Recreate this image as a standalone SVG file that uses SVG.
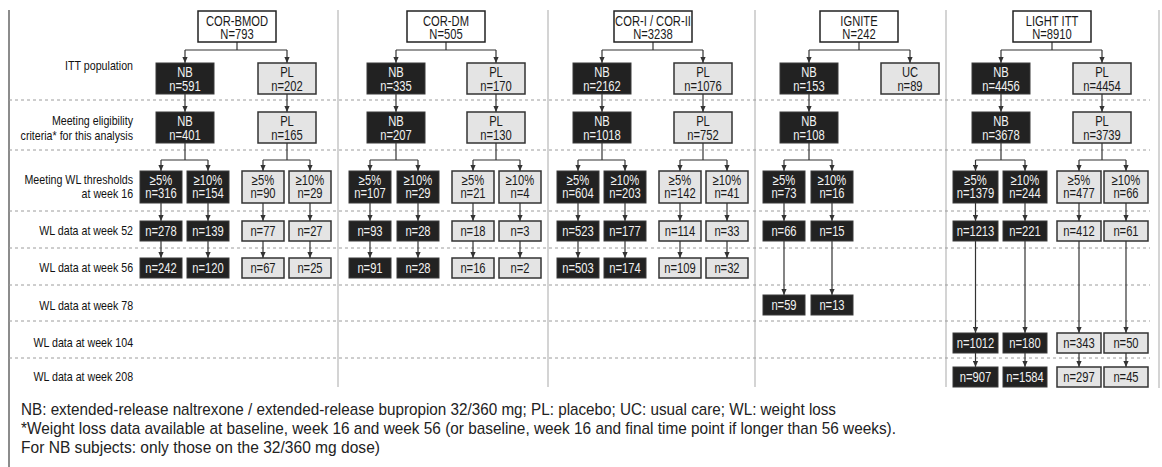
<svg xmlns="http://www.w3.org/2000/svg" width="1162" height="467" viewBox="0 0 1162 467">
<style>
text{font-family:"Liberation Sans Narrow","Arial Narrow","Liberation Sans",Arial,sans-serif}
.top rect{fill:#fff;stroke:#222;stroke-width:1.5}
.nb rect{fill:#222;stroke:#3a3a3a;stroke-width:1}
.pl rect{fill:#e4e4e4;stroke:#333;stroke-width:1.5}
.node text{font-size:14px;text-anchor:middle;transform-box:fill-box;transform-origin:50% 50%;transform:scaleX(0.8)}
.nb text{fill:#f2f2f2}
.pl text,.top text{fill:#1a1a1a}
.lbl{font-size:13px;text-anchor:end;fill:#111;transform-box:fill-box;transform-origin:100% 50%;transform:scaleX(0.82)}
.fn{font-size:17px;fill:#222}
.conn line{stroke:#333;stroke-width:1.2;fill:none}
.conn line.a{marker-end:url(#ah)}
.dash line{stroke:#9c9c9c;stroke-width:1;stroke-dasharray:3 3}
.sep line{stroke:#c6c6c6;stroke-width:1.5}
</style>
<defs>
<marker id="ah" viewBox="0 0 6 6" refX="6" refY="3" markerWidth="6" markerHeight="6" markerUnits="userSpaceOnUse" orient="auto"><path d="M0,0.4 L6,3 L0,5.6 z" fill="#333"/></marker>
</defs>
<rect x="0" y="0" width="1162" height="467" fill="#fff"/>

<g id="frame" class="sep">
<line x1="9" y1="10" x2="9" y2="467" style="stroke:#666"/>
<line x1="1159" y1="10" x2="1159" y2="388"/>
<line x1="338" y1="10" x2="338" y2="387"/>
<line x1="548" y1="10" x2="548" y2="387"/>
<line x1="755" y1="10" x2="755" y2="387"/>
<line x1="946" y1="10" x2="946" y2="387"/>
</g>
<g id="rows" class="dash">
<line x1="9" y1="100" x2="1150" y2="100"/>
<line x1="9" y1="150" x2="1150" y2="150"/>
<line x1="9" y1="211" x2="1150" y2="211"/>
<line x1="9" y1="248" x2="1150" y2="248"/>
<line x1="9" y1="285" x2="1150" y2="285"/>
<line x1="9" y1="321" x2="1150" y2="321"/>
<line x1="9" y1="358" x2="1150" y2="358"/>
</g>

<g id="row-labels">
<text class="lbl" x="133" y="70">ITT population</text>
<text class="lbl" x="133" y="125">Meeting eligibility</text>
<text class="lbl" x="133" y="140">criteria* for this analysis</text>
<text class="lbl" x="133" y="184">Meeting WL thresholds</text>
<text class="lbl" x="133" y="198">at week 16</text>
<text class="lbl" x="133" y="235">WL data at week 52</text>
<text class="lbl" x="133" y="272">WL data at week 56</text>
<text class="lbl" x="133" y="310">WL data at week 78</text>
<text class="lbl" x="133" y="347">WL data at week 104</text>
<text class="lbl" x="133" y="381">WL data at week 208</text>
</g>

<g id="connectors" class="conn">
<!-- COR-BMOD -->
<line x1="237" y1="42" x2="237" y2="50"/><line x1="185" y1="50" x2="287" y2="50"/>
<line class="a" x1="185" y1="50" x2="185" y2="63"/><line class="a" x1="287" y1="50" x2="287" y2="63"/>
<line class="a" x1="185" y1="94" x2="185" y2="112"/><line class="a" x1="287" y1="94" x2="287" y2="112"/>
<line x1="185" y1="143" x2="185" y2="160"/><line x1="161" y1="160" x2="208" y2="160"/>
<line x1="287" y1="143" x2="287" y2="160"/><line x1="263" y1="160" x2="310" y2="160"/>
<line class="a" x1="161" y1="160" x2="161" y2="171"/><line class="a" x1="208" y1="160" x2="208" y2="171"/>
<line class="a" x1="263" y1="160" x2="263" y2="171"/><line class="a" x1="310" y1="160" x2="310" y2="171"/>
<line class="a" x1="161" y1="203" x2="161" y2="221"/><line class="a" x1="208" y1="203" x2="208" y2="221"/>
<line class="a" x1="263" y1="203" x2="263" y2="221"/><line class="a" x1="310" y1="203" x2="310" y2="221"/>
<line class="a" x1="161" y1="241" x2="161" y2="258"/><line class="a" x1="208" y1="241" x2="208" y2="258"/>
<line class="a" x1="263" y1="241" x2="263" y2="258"/><line class="a" x1="310" y1="241" x2="310" y2="258"/>
<!-- COR-DM -->
<line x1="446" y1="42" x2="446" y2="50"/><line x1="396" y1="50" x2="496" y2="50"/>
<line class="a" x1="396" y1="50" x2="396" y2="63"/><line class="a" x1="496" y1="50" x2="496" y2="63"/>
<line class="a" x1="396" y1="94" x2="396" y2="112"/><line class="a" x1="496" y1="94" x2="496" y2="112"/>
<line x1="396" y1="143" x2="396" y2="160"/><line x1="370" y1="160" x2="418" y2="160"/>
<line x1="496" y1="143" x2="496" y2="160"/><line x1="473" y1="160" x2="520" y2="160"/>
<line class="a" x1="370" y1="160" x2="370" y2="171"/><line class="a" x1="418" y1="160" x2="418" y2="171"/>
<line class="a" x1="473" y1="160" x2="473" y2="171"/><line class="a" x1="520" y1="160" x2="520" y2="171"/>
<line class="a" x1="370" y1="203" x2="370" y2="221"/><line class="a" x1="418" y1="203" x2="418" y2="221"/>
<line class="a" x1="473" y1="203" x2="473" y2="221"/><line class="a" x1="520" y1="203" x2="520" y2="221"/>
<line class="a" x1="370" y1="241" x2="370" y2="258"/><line class="a" x1="418" y1="241" x2="418" y2="258"/>
<line class="a" x1="473" y1="241" x2="473" y2="258"/><line class="a" x1="520" y1="241" x2="520" y2="258"/>
<!-- COR-I / COR-II -->
<line x1="653" y1="42" x2="653" y2="50"/><line x1="602" y1="50" x2="703" y2="50"/>
<line class="a" x1="602" y1="50" x2="602" y2="63"/><line class="a" x1="703" y1="50" x2="703" y2="63"/>
<line class="a" x1="602" y1="94" x2="602" y2="112"/><line class="a" x1="703" y1="94" x2="703" y2="112"/>
<line x1="602" y1="143" x2="602" y2="160"/><line x1="578" y1="160" x2="625" y2="160"/>
<line x1="703" y1="143" x2="703" y2="160"/><line x1="680" y1="160" x2="727" y2="160"/>
<line class="a" x1="578" y1="160" x2="578" y2="171"/><line class="a" x1="625" y1="160" x2="625" y2="171"/>
<line class="a" x1="680" y1="160" x2="680" y2="171"/><line class="a" x1="727" y1="160" x2="727" y2="171"/>
<line class="a" x1="578" y1="203" x2="578" y2="221"/><line class="a" x1="625" y1="203" x2="625" y2="221"/>
<line class="a" x1="680" y1="203" x2="680" y2="221"/><line class="a" x1="727" y1="203" x2="727" y2="221"/>
<line class="a" x1="578" y1="241" x2="578" y2="258"/><line class="a" x1="625" y1="241" x2="625" y2="258"/>
<line class="a" x1="680" y1="241" x2="680" y2="258"/><line class="a" x1="727" y1="241" x2="727" y2="258"/>
<!-- IGNITE -->
<line x1="859" y1="42" x2="859" y2="50"/><line x1="809" y1="50" x2="910" y2="50"/>
<line class="a" x1="809" y1="50" x2="809" y2="63"/><line class="a" x1="910" y1="50" x2="910" y2="63"/>
<line class="a" x1="809" y1="94" x2="809" y2="112"/>
<line x1="809" y1="143" x2="809" y2="160"/><line x1="784" y1="160" x2="832" y2="160"/>
<line class="a" x1="784" y1="160" x2="784" y2="171"/><line class="a" x1="832" y1="160" x2="832" y2="171"/>
<line class="a" x1="784" y1="203" x2="784" y2="221"/><line class="a" x1="832" y1="203" x2="832" y2="221"/>
<line class="a" x1="784" y1="241" x2="784" y2="295"/><line class="a" x1="832" y1="241" x2="832" y2="295"/>
<!-- LIGHT ITT -->
<line x1="1052" y1="42" x2="1052" y2="50"/><line x1="1001" y1="50" x2="1102" y2="50"/>
<line class="a" x1="1001" y1="50" x2="1001" y2="63"/><line class="a" x1="1102" y1="50" x2="1102" y2="63"/>
<line class="a" x1="1001" y1="94" x2="1001" y2="112"/><line class="a" x1="1102" y1="94" x2="1102" y2="112"/>
<line x1="1001" y1="143" x2="1001" y2="160"/><line x1="975.5" y1="160" x2="1025" y2="160"/>
<line x1="1102" y1="143" x2="1102" y2="160"/><line x1="1079" y1="160" x2="1126" y2="160"/>
<line class="a" x1="975.5" y1="160" x2="975.5" y2="171"/><line class="a" x1="1025" y1="160" x2="1025" y2="171"/>
<line class="a" x1="1079" y1="160" x2="1079" y2="171"/><line class="a" x1="1126" y1="160" x2="1126" y2="171"/>
<line class="a" x1="975.5" y1="203" x2="975.5" y2="221"/><line class="a" x1="1025" y1="203" x2="1025" y2="221"/>
<line class="a" x1="1079" y1="203" x2="1079" y2="221"/><line class="a" x1="1126" y1="203" x2="1126" y2="221"/>
<line class="a" x1="975.5" y1="241" x2="975.5" y2="333"/><line class="a" x1="1025" y1="241" x2="1025" y2="333"/>
<line class="a" x1="1079" y1="241" x2="1079" y2="333"/><line class="a" x1="1126" y1="241" x2="1126" y2="333"/>
<line class="a" x1="975.5" y1="353" x2="975.5" y2="367"/><line class="a" x1="1025" y1="353" x2="1025" y2="367"/>
<line class="a" x1="1079" y1="353" x2="1079" y2="367"/><line class="a" x1="1126" y1="353" x2="1126" y2="367"/>
</g>

<!-- COR-BMOD nodes -->
<g id="corbmod" class="node top"><rect x="198" y="11" width="78" height="31"/><text x="237" y="26">COR-BMOD</text><text x="237" y="39">N=793</text></g>
<g id="corbmod-itt-nb" class="node nb"><rect x="156" y="63" width="58" height="31"/><text x="185" y="77">NB</text><text x="185" y="91">n=591</text></g>
<g id="corbmod-itt-pl" class="node pl"><rect x="258" y="63" width="58" height="31"/><text x="287" y="77">PL</text><text x="287" y="91">n=202</text></g>
<g id="corbmod-el-nb" class="node nb"><rect x="156" y="112" width="58" height="31"/><text x="185" y="126">NB</text><text x="185" y="140">n=401</text></g>
<g id="corbmod-el-pl" class="node pl"><rect x="258" y="112" width="58" height="31"/><text x="287" y="126">PL</text><text x="287" y="140">n=165</text></g>
<g id="corbmod-nb5" class="node nb"><rect x="140" y="171" width="42" height="32"/><text x="161" y="185">≥5%</text><text x="161" y="198">n=316</text></g>
<g id="corbmod-nb10" class="node nb"><rect x="187" y="171" width="42" height="32"/><text x="208" y="185">≥10%</text><text x="208" y="198">n=154</text></g>
<g id="corbmod-pl5" class="node pl"><rect x="242" y="171" width="42" height="32"/><text x="263" y="185">≥5%</text><text x="263" y="198">n=90</text></g>
<g id="corbmod-pl10" class="node pl"><rect x="289" y="171" width="42" height="32"/><text x="310" y="185">≥10%</text><text x="310" y="198">n=29</text></g>
<g id="corbmod-nb5-w52" class="node nb"><rect x="140" y="221" width="42" height="20"/><text x="161" y="236">n=278</text></g>
<g id="corbmod-nb10-w52" class="node nb"><rect x="187" y="221" width="42" height="20"/><text x="208" y="236">n=139</text></g>
<g id="corbmod-pl5-w52" class="node pl"><rect x="242" y="221" width="42" height="20"/><text x="263" y="236">n=77</text></g>
<g id="corbmod-pl10-w52" class="node pl"><rect x="289" y="221" width="42" height="20"/><text x="310" y="236">n=27</text></g>
<g id="corbmod-nb5-w56" class="node nb"><rect x="140" y="258" width="42" height="20"/><text x="161" y="273">n=242</text></g>
<g id="corbmod-nb10-w56" class="node nb"><rect x="187" y="258" width="42" height="20"/><text x="208" y="273">n=120</text></g>
<g id="corbmod-pl5-w56" class="node pl"><rect x="242" y="258" width="42" height="20"/><text x="263" y="273">n=67</text></g>
<g id="corbmod-pl10-w56" class="node pl"><rect x="289" y="258" width="42" height="20"/><text x="310" y="273">n=25</text></g>

<!-- COR-DM nodes -->
<g id="cordm" class="node top"><rect x="407" y="11" width="78" height="31"/><text x="446" y="26">COR-DM</text><text x="446" y="39">N=505</text></g>
<g id="cordm-itt-nb" class="node nb"><rect x="367" y="63" width="58" height="31"/><text x="396" y="77">NB</text><text x="396" y="91">n=335</text></g>
<g id="cordm-itt-pl" class="node pl"><rect x="467" y="63" width="58" height="31"/><text x="496" y="77">PL</text><text x="496" y="91">n=170</text></g>
<g id="cordm-el-nb" class="node nb"><rect x="367" y="112" width="58" height="31"/><text x="396" y="126">NB</text><text x="396" y="140">n=207</text></g>
<g id="cordm-el-pl" class="node pl"><rect x="467" y="112" width="58" height="31"/><text x="496" y="126">PL</text><text x="496" y="140">n=130</text></g>
<g id="cordm-nb5" class="node nb"><rect x="349" y="171" width="42" height="32"/><text x="370" y="185">≥5%</text><text x="370" y="198">n=107</text></g>
<g id="cordm-nb10" class="node nb"><rect x="397" y="171" width="42" height="32"/><text x="418" y="185">≥10%</text><text x="418" y="198">n=29</text></g>
<g id="cordm-pl5" class="node pl"><rect x="452" y="171" width="42" height="32"/><text x="473" y="185">≥5%</text><text x="473" y="198">n=21</text></g>
<g id="cordm-pl10" class="node pl"><rect x="499" y="171" width="42" height="32"/><text x="520" y="185">≥10%</text><text x="520" y="198">n=4</text></g>
<g id="cordm-nb5-w52" class="node nb"><rect x="349" y="221" width="42" height="20"/><text x="370" y="236">n=93</text></g>
<g id="cordm-nb10-w52" class="node nb"><rect x="397" y="221" width="42" height="20"/><text x="418" y="236">n=28</text></g>
<g id="cordm-pl5-w52" class="node pl"><rect x="452" y="221" width="42" height="20"/><text x="473" y="236">n=18</text></g>
<g id="cordm-pl10-w52" class="node pl"><rect x="499" y="221" width="42" height="20"/><text x="520" y="236">n=3</text></g>
<g id="cordm-nb5-w56" class="node nb"><rect x="349" y="258" width="42" height="20"/><text x="370" y="273">n=91</text></g>
<g id="cordm-nb10-w56" class="node nb"><rect x="397" y="258" width="42" height="20"/><text x="418" y="273">n=28</text></g>
<g id="cordm-pl5-w56" class="node pl"><rect x="452" y="258" width="42" height="20"/><text x="473" y="273">n=16</text></g>
<g id="cordm-pl10-w56" class="node pl"><rect x="499" y="258" width="42" height="20"/><text x="520" y="273">n=2</text></g>

<!-- COR-I / COR-II nodes -->
<g id="cor12" class="node top"><rect x="614" y="11" width="78" height="31"/><text x="653" y="26">COR-I / COR-II</text><text x="653" y="39">N=3238</text></g>
<g id="cor12-itt-nb" class="node nb"><rect x="573" y="63" width="58" height="31"/><text x="602" y="77">NB</text><text x="602" y="91">n=2162</text></g>
<g id="cor12-itt-pl" class="node pl"><rect x="674" y="63" width="58" height="31"/><text x="703" y="77">PL</text><text x="703" y="91">n=1076</text></g>
<g id="cor12-el-nb" class="node nb"><rect x="573" y="112" width="58" height="31"/><text x="602" y="126">NB</text><text x="602" y="140">n=1018</text></g>
<g id="cor12-el-pl" class="node pl"><rect x="674" y="112" width="58" height="31"/><text x="703" y="126">PL</text><text x="703" y="140">n=752</text></g>
<g id="cor12-nb5" class="node nb"><rect x="557" y="171" width="42" height="32"/><text x="578" y="185">≥5%</text><text x="578" y="198">n=604</text></g>
<g id="cor12-nb10" class="node nb"><rect x="604" y="171" width="42" height="32"/><text x="625" y="185">≥10%</text><text x="625" y="198">n=203</text></g>
<g id="cor12-pl5" class="node pl"><rect x="659" y="171" width="42" height="32"/><text x="680" y="185">≥5%</text><text x="680" y="198">n=142</text></g>
<g id="cor12-pl10" class="node pl"><rect x="706" y="171" width="42" height="32"/><text x="727" y="185">≥10%</text><text x="727" y="198">n=41</text></g>
<g id="cor12-nb5-w52" class="node nb"><rect x="557" y="221" width="42" height="20"/><text x="578" y="236">n=523</text></g>
<g id="cor12-nb10-w52" class="node nb"><rect x="604" y="221" width="42" height="20"/><text x="625" y="236">n=177</text></g>
<g id="cor12-pl5-w52" class="node pl"><rect x="659" y="221" width="42" height="20"/><text x="680" y="236">n=114</text></g>
<g id="cor12-pl10-w52" class="node pl"><rect x="706" y="221" width="42" height="20"/><text x="727" y="236">n=33</text></g>
<g id="cor12-nb5-w56" class="node nb"><rect x="557" y="258" width="42" height="20"/><text x="578" y="273">n=503</text></g>
<g id="cor12-nb10-w56" class="node nb"><rect x="604" y="258" width="42" height="20"/><text x="625" y="273">n=174</text></g>
<g id="cor12-pl5-w56" class="node pl"><rect x="659" y="258" width="42" height="20"/><text x="680" y="273">n=109</text></g>
<g id="cor12-pl10-w56" class="node pl"><rect x="706" y="258" width="42" height="20"/><text x="727" y="273">n=32</text></g>

<!-- IGNITE nodes -->
<g id="ignite" class="node top"><rect x="820" y="11" width="78" height="31"/><text x="859" y="26">IGNITE</text><text x="859" y="39">N=242</text></g>
<g id="ignite-itt-nb" class="node nb"><rect x="780" y="63" width="58" height="31"/><text x="809" y="77">NB</text><text x="809" y="91">n=153</text></g>
<g id="ignite-itt-uc" class="node pl"><rect x="881" y="63" width="58" height="31"/><text x="910" y="77">UC</text><text x="910" y="91">n=89</text></g>
<g id="ignite-el-nb" class="node nb"><rect x="780" y="112" width="58" height="31"/><text x="809" y="126">NB</text><text x="809" y="140">n=108</text></g>
<g id="ignite-nb5" class="node nb"><rect x="763" y="171" width="42" height="32"/><text x="784" y="185">≥5%</text><text x="784" y="198">n=73</text></g>
<g id="ignite-nb10" class="node nb"><rect x="811" y="171" width="42" height="32"/><text x="832" y="185">≥10%</text><text x="832" y="198">n=16</text></g>
<g id="ignite-nb5-w52" class="node nb"><rect x="763" y="221" width="42" height="20"/><text x="784" y="236">n=66</text></g>
<g id="ignite-nb10-w52" class="node nb"><rect x="811" y="221" width="42" height="20"/><text x="832" y="236">n=15</text></g>
<g id="ignite-nb5-w78" class="node nb"><rect x="763" y="295" width="42" height="20"/><text x="784" y="310">n=59</text></g>
<g id="ignite-nb10-w78" class="node nb"><rect x="811" y="295" width="42" height="20"/><text x="832" y="310">n=13</text></g>

<!-- LIGHT ITT nodes -->
<g id="light" class="node top"><rect x="1013" y="11" width="78" height="31"/><text x="1052" y="26">LIGHT ITT</text><text x="1052" y="39">N=8910</text></g>
<g id="light-itt-nb" class="node nb"><rect x="972" y="63" width="58" height="31"/><text x="1001" y="77">NB</text><text x="1001" y="91">n=4456</text></g>
<g id="light-itt-pl" class="node pl"><rect x="1073" y="63" width="58" height="31"/><text x="1102" y="77">PL</text><text x="1102" y="91">n=4454</text></g>
<g id="light-el-nb" class="node nb"><rect x="972" y="112" width="58" height="31"/><text x="1001" y="126">NB</text><text x="1001" y="140">n=3678</text></g>
<g id="light-el-pl" class="node pl"><rect x="1073" y="112" width="58" height="31"/><text x="1102" y="126">PL</text><text x="1102" y="140">n=3739</text></g>
<g id="light-nb5" class="node nb"><rect x="953" y="171" width="45" height="32"/><text x="975.5" y="185">≥5%</text><text x="975.5" y="198">n=1379</text></g>
<g id="light-nb10" class="node nb"><rect x="1003" y="171" width="44" height="32"/><text x="1025" y="185">≥10%</text><text x="1025" y="198">n=244</text></g>
<g id="light-pl5" class="node pl"><rect x="1057" y="171" width="44" height="32"/><text x="1079" y="185">≥5%</text><text x="1079" y="198">n=477</text></g>
<g id="light-pl10" class="node pl"><rect x="1104" y="171" width="44" height="32"/><text x="1126" y="185">≥10%</text><text x="1126" y="198">n=66</text></g>
<g id="light-nb5-w52" class="node nb"><rect x="953" y="221" width="45" height="20"/><text x="975.5" y="236">n=1213</text></g>
<g id="light-nb10-w52" class="node nb"><rect x="1003" y="221" width="44" height="20"/><text x="1025" y="236">n=221</text></g>
<g id="light-pl5-w52" class="node pl"><rect x="1057" y="221" width="44" height="20"/><text x="1079" y="236">n=412</text></g>
<g id="light-pl10-w52" class="node pl"><rect x="1104" y="221" width="44" height="20"/><text x="1126" y="236">n=61</text></g>
<g id="light-nb5-w104" class="node nb"><rect x="953" y="333" width="45" height="20"/><text x="975.5" y="348">n=1012</text></g>
<g id="light-nb10-w104" class="node nb"><rect x="1003" y="333" width="44" height="20"/><text x="1025" y="348">n=180</text></g>
<g id="light-pl5-w104" class="node pl"><rect x="1057" y="333" width="44" height="20"/><text x="1079" y="348">n=343</text></g>
<g id="light-pl10-w104" class="node pl"><rect x="1104" y="333" width="44" height="20"/><text x="1126" y="348">n=50</text></g>
<g id="light-nb5-w208" class="node nb"><rect x="953" y="367" width="45" height="20"/><text x="975.5" y="382">n=907</text></g>
<g id="light-nb10-w208" class="node nb"><rect x="1003" y="367" width="44" height="20"/><text x="1025" y="382">n=1584</text></g>
<g id="light-pl5-w208" class="node pl"><rect x="1057" y="367" width="44" height="20"/><text x="1079" y="382">n=297</text></g>
<g id="light-pl10-w208" class="node pl"><rect x="1104" y="367" width="44" height="20"/><text x="1126" y="382">n=45</text></g>

<g id="footnotes">
<text class="fn" x="21" y="415" textLength="815" lengthAdjust="spacingAndGlyphs">NB: extended-release naltrexone / extended-release bupropion 32/360 mg; PL: placebo; UC: usual care; WL: weight loss</text>
<text class="fn" x="21" y="434" textLength="875" lengthAdjust="spacingAndGlyphs">*Weight loss data available at baseline, week 16 and week 56 (or baseline, week 16 and final time point if longer than 56 weeks).</text>
<text class="fn" x="21" y="453" textLength="359" lengthAdjust="spacingAndGlyphs">For NB subjects: only those on the 32/360 mg dose)</text>
</g>
</svg>
